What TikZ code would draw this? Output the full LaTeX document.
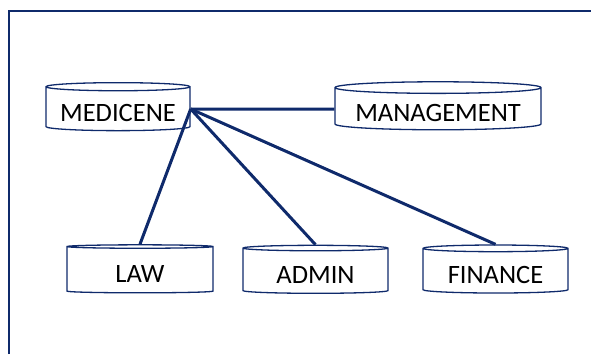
\documentclass[tikz,border=0pt]{standalone}
\usepackage{fontspec}
\setmainfont{Carlito}
\usetikzlibrary{shapes.geometric}
\definecolor{navy}{HTML}{0F2A6B}
\tikzset{
    dept/.style = {
    	cylinder,
    	shape border rotate=90,
    	aspect=0.07,
    	draw=navy,
    	line width=1.3pt,
    	inner sep=0pt,
    	minimum height=48pt,
    	text height=25pt,
    	text depth=0pt,
    	font=\fontsize{26.5}{30}\selectfont
    },
    link/.style = {
    	navy,
    	line width=3pt
    },
    frame/.style = {
    	navy,
    	line width=1.4pt
    }
}
\begin{document}
\begin{tikzpicture}[x=1pt,y=-1pt]
	\useasboundingbox (0,0) rectangle (591,354);

	% Rahmen
	\coordinate (FL) at (9,354);
	\coordinate (FC) at (9,11);
	\coordinate (FR) at (591,11);
	\draw[frame] (FL) -- (FC) -- (FR);

	% Abteilungen
	\node[dept, minimum width=144pt] (med) at (118,109) {MEDICENE};
	\node[dept, minimum width=206pt] (man) at (438,109) {MANAGEMENT};
	\node[dept, minimum width=146pt] (law) at (140,270) {LAW};
	\node[dept, minimum width=145pt] (adm) at (315.5,271) {ADMIN};
	\node[dept, minimum width=145pt] (fin) at (495.5,271) {FINANCE};

	% Verbindungen
	\draw[link] (med.east) -- (man.west);
	\draw[link] (med.east) -- (law.north);
	\draw[link] (med.east) -- (adm.north);
	\draw[link] (med.east) -- (fin.north);
\end{tikzpicture}
\end{document}
